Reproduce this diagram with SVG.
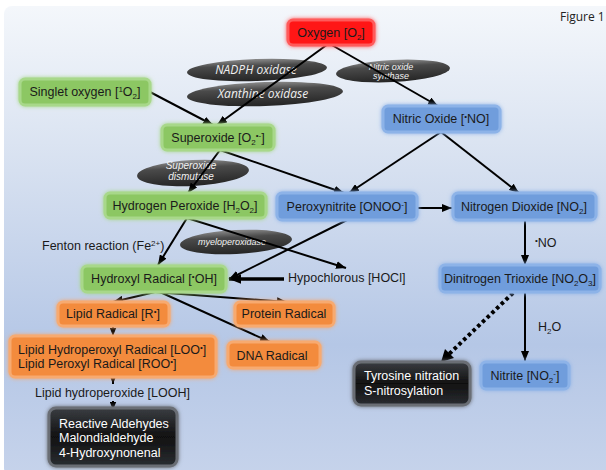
<svg xmlns="http://www.w3.org/2000/svg" width="606" height="470" viewBox="0 0 606 470">
<defs>
<linearGradient id="bg" x1="0" y1="0" x2="0" y2="1">
<stop offset="0" stop-color="#f4f7fb"/>
<stop offset="0.35" stop-color="#d6e0f0"/>
<stop offset="0.72" stop-color="#b5c7e6"/>
<stop offset="1" stop-color="#c6d3eb"/>
</linearGradient>
<linearGradient id="ell" x1="0" y1="0" x2="0" y2="1">
<stop offset="0" stop-color="#8a8a8a"/>
<stop offset="0.3" stop-color="#4a4a4a"/>
<stop offset="1" stop-color="#252525"/>
</linearGradient>
<linearGradient id="blk" x1="0" y1="0" x2="0" y2="1">
<stop offset="0" stop-color="#3a3d42"/>
<stop offset="0.5" stop-color="#111"/>
<stop offset="1" stop-color="#2a2d32"/>
</linearGradient>
<filter id="glow" x="-20%" y="-50%" width="140%" height="200%">
<feGaussianBlur in="SourceGraphic" stdDeviation="2.2" result="b"/>
<feMerge><feMergeNode in="b"/><feMergeNode in="SourceGraphic"/></feMerge>
</filter>
<marker id="ah" viewBox="0 0 10 8" refX="10" refY="4" markerWidth="10" markerHeight="8" markerUnits="userSpaceOnUse" orient="auto">
<path d="M0,0 L10,4 L0,8 z" fill="#000"/>
</marker>
<marker id="ahs" viewBox="0 0 10 8" refX="10" refY="4" markerWidth="8" markerHeight="7" markerUnits="userSpaceOnUse" orient="auto">
<path d="M0,0 L10,4 L0,8 z" fill="#000"/>
</marker>
<marker id="ahb" viewBox="0 0 10 8" refX="10" refY="4" markerWidth="12" markerHeight="10" markerUnits="userSpaceOnUse" orient="auto">
<path d="M0,0 L10,4 L0,8 z" fill="#000"/>
</marker>
<style>
.t{font-family:"Liberation Sans",Arial,sans-serif;font-size:12.5px;fill:#1a1a1a}
.c{text-anchor:middle}
.w{fill:#fff}
.sub{font-size:8px}
.e{fill:url(#ell)}
.et{font-family:"Liberation Sans",Arial,sans-serif;font-style:italic;fill:#f2f2f2;text-anchor:middle}
.eo{font-family:"Open Sans","Liberation Sans",sans-serif;font-style:italic;font-size:12px;fill:#f0f0f0;text-anchor:middle}
.gr{fill:#8cc764;stroke:#a8d88a;stroke-width:3;filter:url(#glow)}
.bl{fill:#6f9ddc;stroke:#8db3e8;stroke-width:3;filter:url(#glow)}
.or{fill:#f38b3e;stroke:#f7aa70;stroke-width:3;filter:url(#glow)}
.rd{fill:#ff1212;stroke:#ff5a5a;stroke-width:3;filter:url(#glow)}
.bk{fill:url(#blk);stroke:#6a6e75;stroke-width:3;filter:url(#glow)}
.ln{stroke:#000;stroke-width:2;fill:none;marker-end:url(#ah)}
.sm{stroke:#000;stroke-width:2;fill:none;marker-end:url(#ahs)}
</style>
</defs>

<rect x="0" y="0" width="606" height="470" fill="#fff"/>
<rect x="4" y="6" width="610" height="470" rx="8" fill="url(#bg)"/>
<text x="560" y="21" font-family="'Open Sans','Liberation Sans',sans-serif" font-size="12" fill="#222">Figure 1</text>

<!-- enzyme ellipses -->
<g id="nadph"><ellipse class="e" cx="257" cy="70" rx="70" ry="11" transform="rotate(-2 257 70)"/><text class="eo" x="256" y="74">NADPH oxidase</text></g>
<g id="xanthine"><ellipse class="e" cx="265" cy="94" rx="78" ry="12" transform="rotate(-2 265 94)"/><text class="eo" x="263" y="98">Xanthine oxidase</text></g>
<g id="nos"><ellipse class="e" cx="393" cy="71" rx="57" ry="11" transform="rotate(-3 393 71)"/><text class="et" font-size="9"><tspan x="391" y="70">Nitric oxide</tspan><tspan x="391" y="78.5">synthase</tspan></text></g>
<g id="sod"><ellipse class="e" cx="193" cy="173" rx="56" ry="13" transform="rotate(-3 193 173)"/><text class="et" font-size="10"><tspan x="191" y="168.5">Superoxide</tspan><tspan x="191" y="179.5">dismutase</tspan></text></g>
<g id="mpo"><ellipse class="e" cx="236" cy="242" rx="56" ry="12" transform="rotate(-3 236 242)"/><text class="et" font-size="9" x="232" y="244.5">myeloperoxidase</text></g>

<!-- connectors -->
<g id="connectors">
<line class="ln" x1="328" y1="44" x2="217" y2="125"/>
<line class="ln" x1="150" y1="92" x2="213" y2="125"/>
<line class="ln" x1="330" y1="44" x2="438" y2="106"/>
<line class="ln" x1="220" y1="150" x2="188" y2="193"/>
<line class="ln" x1="220" y1="150" x2="344" y2="193"/>
<line class="ln" x1="441" y1="132" x2="349" y2="193"/>
<line class="ln" x1="441" y1="132" x2="519" y2="193"/>
<line class="ln" x1="418" y1="208" x2="452" y2="208" stroke-width="2.5"/>
<line class="ln" x1="525" y1="220" x2="525" y2="265"/>
<line class="ln" x1="187" y1="218" x2="158" y2="265"/>
<line class="ln" x1="187" y1="218" x2="346" y2="268"/>
<line class="ln" x1="347" y1="220" x2="229" y2="279"/>
<line x1="284" y1="279" x2="229" y2="279" stroke="#000" stroke-width="3.5" marker-end="url(#ahb)"/>
<line class="ln" x1="155" y1="292" x2="113" y2="302"/>
<line class="ln" x1="155" y1="292" x2="287" y2="302"/>
<line class="ln" x1="160" y1="292" x2="270" y2="342"/>
<line class="sm" x1="113" y1="327" x2="113" y2="336"/>
<line class="sm" x1="113" y1="377" x2="113" y2="384"/>
<line class="sm" x1="113" y1="401" x2="113" y2="410"/>
<line x1="513" y1="293" x2="448" y2="355" stroke="#000" stroke-width="4" stroke-dasharray="3.5 3"/>
<path d="M441,362 L445,349 L454,358 z" fill="#000"/>
<line class="ln" x1="525" y1="292" x2="525" y2="361"/>
</g>

<!-- nodes -->
<g id="oxygen"><rect class="rd" x="288" y="20" width="86" height="25" rx="5"/><text class="t c" x="331" y="37" fill="#2a0000">Oxygen [O<tspan class="sub" baseline-shift="-3">2</tspan>]</text></g>
<g id="singlet"><rect class="gr" x="20" y="79" width="130" height="26" rx="5"/><text class="t c" x="85" y="96">Singlet oxygen [<tspan class="sub" baseline-shift="4">1</tspan>O<tspan class="sub" baseline-shift="-3">2</tspan>]</text></g>
<g id="superoxide"><rect class="gr" x="162" y="125" width="112" height="25" rx="5"/><text class="t c" x="218" y="142">Superoxide [O<tspan class="sub" baseline-shift="-3">2</tspan><tspan class="sub" baseline-shift="4">•-</tspan>]</text></g>
<g id="nitricoxide"><rect class="bl" x="383" y="106" width="117" height="26" rx="5"/><text class="t c" x="441" y="123">Nitric Oxide [<tspan class="sub" baseline-shift="4">•</tspan>NO]</text></g>
<g id="h2o2"><rect class="gr" x="105" y="193" width="161" height="25" rx="5"/><text class="t c" x="185" y="210">Hydrogen Peroxide [H<tspan class="sub" baseline-shift="-3">2</tspan>O<tspan class="sub" baseline-shift="-3">2</tspan>]</text></g>
<g id="peroxynitrite"><rect class="bl" x="277" y="193" width="140" height="27" rx="5"/><text class="t c" x="347" y="211">Peroxynitrite [ONOO<tspan class="sub" baseline-shift="4">-</tspan>]</text></g>
<g id="no2"><rect class="bl" x="453" y="193" width="143" height="27" rx="5"/><text class="t c" x="524" y="211">Nitrogen Dioxide [NO<tspan class="sub" baseline-shift="-3">2</tspan>]</text></g>
<g id="hydroxyl"><rect class="gr" x="82" y="266" width="144" height="26" rx="5"/><text class="t c" x="154" y="283">Hydroxyl Radical [<tspan class="sub" baseline-shift="4">•</tspan>OH]</text></g>
<g id="n2o3"><rect class="bl" x="440" y="265" width="160" height="27" rx="5"/><text class="t c" x="520" y="283">Dinitrogen Trioxide [NO<tspan class="sub" baseline-shift="-3">2</tspan>O<tspan class="sub" baseline-shift="-3">3</tspan>]</text></g>
<g id="lipidradical"><rect class="or" x="58" y="302" width="111" height="24" rx="5"/><text class="t c" x="113" y="318">Lipid Radical [R<tspan class="sub" baseline-shift="4">•</tspan>]</text></g>
<g id="protein"><rect class="or" x="235" y="302" width="99" height="24" rx="5"/><text class="t c" x="284" y="318">Protein Radical</text></g>
<g id="lipidperoxyl"><rect class="or" x="10" y="336" width="206" height="41" rx="5"/><text class="t"><tspan x="18" y="354">Lipid Hydroperoxyl Radical [LOO<tspan class="sub" baseline-shift="4">•</tspan>]</tspan><tspan x="18" y="368">Lipid Peroxyl Radical [ROO<tspan class="sub" baseline-shift="4">•</tspan>]</tspan></text></g>
<g id="dna"><rect class="or" x="228" y="342" width="92" height="26" rx="5"/><text class="t c" x="272" y="360">DNA Radical</text></g>
<g id="aldehydes"><rect class="bk" x="49" y="408" width="128" height="58" rx="7"/><text class="t w"><tspan x="59" y="428">Reactive Aldehydes</tspan><tspan x="59" y="442">Malondialdehyde</tspan><tspan x="59" y="457">4-Hydroxynonenal</tspan></text></g>
<g id="tyrosine"><rect class="bk" x="354" y="362" width="116" height="43" rx="7"/><text class="t w"><tspan x="364" y="380">Tyrosine nitration</tspan><tspan x="364" y="395">S-nitrosylation</tspan></text></g>
<g id="nitrite"><rect class="bl" x="481" y="362" width="88" height="27" rx="5"/><text class="t c" x="525" y="380">Nitrite [NO<tspan class="sub" baseline-shift="-3">2</tspan><tspan class="sub" baseline-shift="4">-</tspan>]</text></g>

<!-- free labels -->
<g id="labels">
<text class="t" x="42" y="250">Fenton reaction (Fe<tspan class="sub" baseline-shift="4">2+</tspan>)</text>
<text class="t" x="288" y="282">Hypochlorous [HOCl]</text>
<text class="t" x="535" y="247"><tspan class="sub" baseline-shift="4">•</tspan>NO</text>
<text class="t" x="538" y="331">H<tspan class="sub" baseline-shift="-3">2</tspan>O</text>
<text class="t" x="35" y="397">Lipid hydroperoxide [LOOH]</text>
</g>
</svg>
